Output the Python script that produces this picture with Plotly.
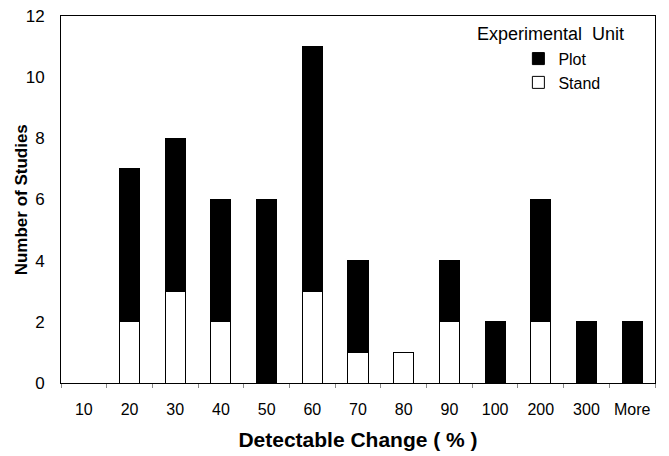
import plotly.graph_objects as go

categories = ["10", "20", "30", "40", "50", "60", "70", "80", "90", "100", "200", "300", "More"]
stand = [0, 2, 3, 2, 0, 3, 1, 1, 2, 0, 2, 0, 0]
plot_vals = [0, 5, 5, 4, 6, 8, 3, 0, 2, 2, 4, 2, 2]

fig = go.Figure()
fig.add_trace(go.Bar(x=categories, y=stand, name="Stand",
                     marker=dict(color="white", line=dict(color="black", width=1))))
fig.add_trace(go.Bar(x=categories, y=plot_vals, name="Plot",
                     marker=dict(color="black", line=dict(color="black", width=1))))

font = "Liberation Sans, Arial, sans-serif"
fig.update_layout(
    width=669, height=456,
    barmode="stack", bargap=0.56,
    plot_bgcolor="white", paper_bgcolor="white",
    margin=dict(l=61, r=14, t=16, b=73),
    font=dict(family=font, color="black", size=16),
    showlegend=True,
    legend=dict(x=0.77, y=0.93, xanchor="left", yanchor="top",
                traceorder="reversed", font=dict(size=16),
                bgcolor="rgba(0,0,0,0)", itemwidth=30, tracegroupgap=0),
    xaxis=dict(
        title=dict(text="<b>Detectable Change ( % )</b>", font=dict(size=21), standoff=15),
        showline=True, linecolor="black", linewidth=1, mirror=True,
        ticks="outside", tickson="boundaries", ticklen=4, tickcolor="#888",
        tickfont=dict(size=16), showgrid=False, automargin=False,
        ticklabelstandoff=12,
    ),
    yaxis=dict(
        range=[0, 12], dtick=2,
        showline=True, linecolor="black", linewidth=1, mirror=True,
        ticks="", tickfont=dict(size=17), showgrid=False, zeroline=False,
        automargin=False, ticklabelstandoff=12,
    ),
    annotations=[
        dict(text="Experimental  Unit", x=0.952, y=0.985, xref="paper", yref="paper",
             xanchor="right", yanchor="top", showarrow=False, font=dict(size=18)),
        dict(text="<b>Number of Studies</b>", x=-0.066, y=0.5, xref="paper", yref="paper",
             xanchor="center", yanchor="middle", textangle=-90, showarrow=False,
             font=dict(size=17)),
    ],
)

fig.write_html("out.html", config={"displayModeBar": False},
               post_script="document.body.style.margin='0';")
